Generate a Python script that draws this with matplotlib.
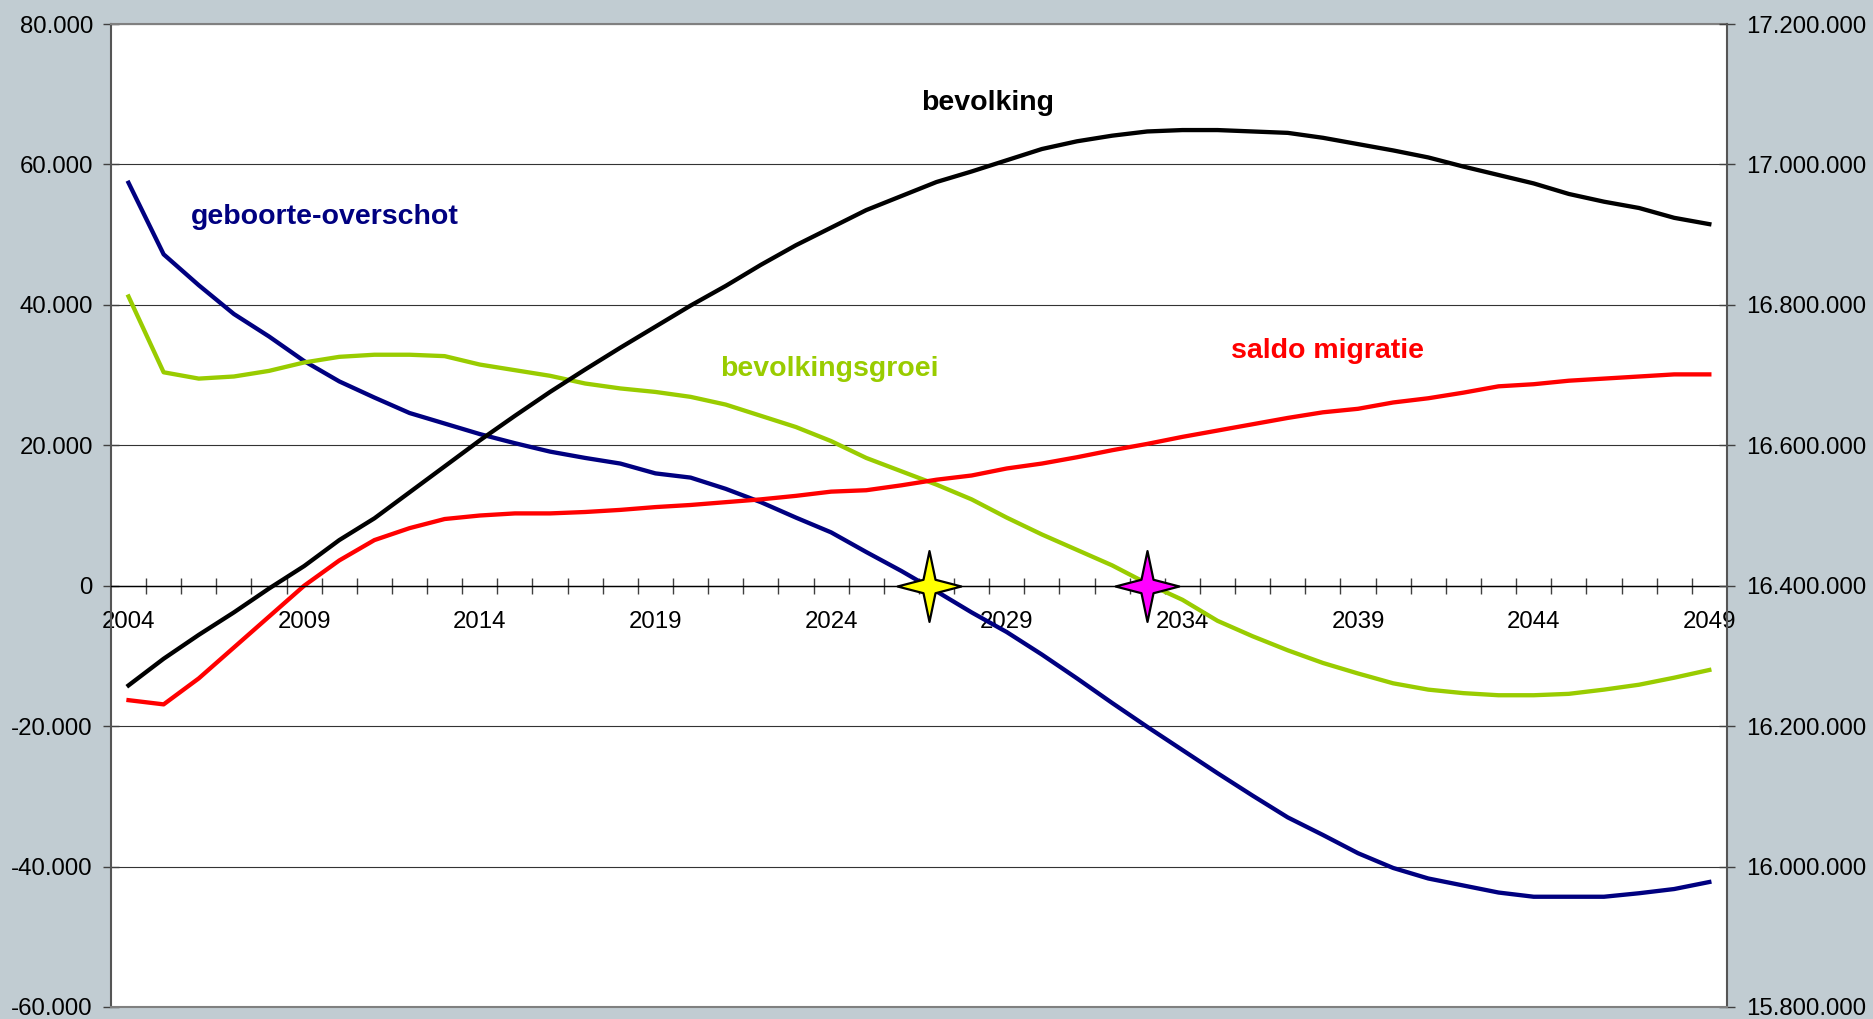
import matplotlib
matplotlib.use("Agg")
import matplotlib.pyplot as plt
from matplotlib.path import Path
from matplotlib.ticker import FixedLocator, FuncFormatter

# jaren 2004 t/m 2049
years = list(range(2004, 2050))

geboorte_overschot = [57400, 47200, 42800, 38700, 35500, 32000, 29100, 26800, 24600, 23100,
                      21600, 20300, 19100, 18200, 17400, 16000, 15400, 13800, 11900, 9700,
                      7600, 4800, 2100, -800, -3800, -6600, -9800, -13200, -16700, -20100,
                      -23400, -26700, -29900, -33000, -35500, -38100, -40200, -41700, -42700, -43700,
                      -44300, -44300, -44300, -43800, -43200, -42200]

bevolkingsgroei = [41200, 30400, 29500, 29800, 30600, 31800, 32600, 32900, 32900, 32700,
                   31500, 30700, 29900, 28800, 28100, 27600, 26900, 25800, 24200, 22600,
                   20600, 18200, 16300, 14400, 12300, 9700, 7300, 5100, 2900, 300,
                   -2000, -5000, -7200, -9200, -11000, -12500, -13900, -14800, -15300, -15600,
                   -15600, -15400, -14800, -14100, -13100, -12000]

saldo_migratie = [-16300, -16900, -13200, -8800, -4400, 0, 3600, 6500, 8200, 9500,
                  10000, 10300, 10300, 10500, 10800, 11200, 11500, 11900, 12300, 12800,
                  13400, 13600, 14300, 15100, 15700, 16700, 17400, 18300, 19300, 20200,
                  21200, 22100, 23000, 23900, 24700, 25200, 26100, 26700, 27500, 28400,
                  28700, 29200, 29500, 29800, 30100, 30100]

bevolking = [16258000, 16296000, 16330000, 16362000, 16396000, 16428000, 16465000, 16496000, 16533000, 16570000,
             16607000, 16642000, 16676000, 16708000, 16739000, 16769000, 16799000, 16827000, 16857000, 16885000,
             16910000, 16935000, 16955000, 16975000, 16990000, 17006000, 17022000, 17033000, 17041000, 17047000,
             17049000, 17049000, 17047000, 17045000, 17038000, 17029000, 17020000, 17010000, 16997000, 16985000,
             16973000, 16958000, 16947000, 16938000, 16924000, 16915000]

# sterren op de nullijn: geboorte-overschot en bevolkingsgroei worden negatief
star_years = [2026.8, 2033.0]
star_colors = ["#FFFF00", "#FF00FF"]

left_ticks = [-60000, -40000, -20000, 0, 20000, 40000, 60000, 80000]
right_ticks = [15800000, 16000000, 16200000, 16400000, 16600000, 16800000, 17000000, 17200000]
label_years = list(range(2004, 2050, 5))

bg = "#C1CCD2"
plt.rcParams["font.family"] = ["Liberation Sans", "DejaVu Sans"]


def dutch(v, pos=None):
    return "{:,.0f}".format(v).replace(",", ".")


# vierpuntige ster
star = Path([(0, 1), (0.17, 0.19), (0.9, 0), (0.17, -0.19), (0, -1),
             (-0.17, -0.19), (-0.9, 0), (-0.17, 0.19), (0, 1)],
            [Path.MOVETO] + [Path.LINETO] * 7 + [Path.CLOSEPOLY])

fig = plt.figure(figsize=(18.74, 10.19), dpi=100, facecolor=bg)
ax = fig.add_axes([0.0592, 0.0118, 0.8623, 0.9646])
ax2 = ax.twinx()

ax.set_xlim(2003.5, 2049.5)
ax.set_ylim(-60000, 80000)
ax2.set_ylim(15800000, 17200000)

ax.plot(years, geboorte_overschot, color="#000080", lw=3.1)
ax.plot(years, bevolkingsgroei, color="#99CC00", lw=3.1)
ax.plot(years, saldo_migratie, color="#FF0000", lw=3.1)
ax2.plot(years, bevolking, color="black", lw=3.1)

for yr, c in zip(star_years, star_colors):
    ax2.plot([yr], [0], transform=ax.transData, marker=star, markersize=51,
             markerfacecolor=c, markeredgecolor="black", markeredgewidth=1.6,
             linestyle="none", zorder=10, clip_on=False)

# gridlijnen
ax.yaxis.set_major_locator(FixedLocator(left_ticks))
ax.yaxis.set_major_formatter(FuncFormatter(dutch))
ax.yaxis.grid(True, color="#333333", lw=0.8)
ax2.yaxis.set_major_locator(FixedLocator(right_ticks))
ax2.yaxis.set_major_formatter(FuncFormatter(dutch))

# x-as op de nullijn
ax.spines["bottom"].set_position(("data", 0))
ax.spines["bottom"].set_color("black")
ax.spines["bottom"].set_linewidth(1.0)
ax.spines["top"].set_color("#808080")
ax.spines["top"].set_linewidth(1.5)
ax.spines["left"].set_color("#555555")
ax.spines["left"].set_linewidth(1.5)
ax.spines["right"].set_visible(False)
ax2.spines["right"].set_color("#555555")
ax2.spines["right"].set_linewidth(1.5)
ax2.spines["left"].set_visible(False)
ax2.spines["top"].set_visible(False)
ax2.spines["bottom"].set_color("#808080")
ax2.spines["bottom"].set_linewidth(1.5)

ax.set_xticks(label_years)
ax.set_xticks([y + 0.5 for y in years[:-1]], minor=True)
ax.tick_params(axis="x", which="major", length=0, pad=18, labelsize=17.3)
ax.tick_params(axis="x", which="minor", direction="inout", length=12,
               width=1.0, color="#404040")
ax.tick_params(axis="y", direction="inout", length=12, width=1.0,
               color="#404040", pad=7, labelsize=17.3)
ax2.tick_params(axis="y", direction="inout", length=12, width=1.0,
                color="#404040", pad=8, labelsize=17.3)

ax.set_facecolor("white")

# serienamen
ax.text(2005.78, 52500, "geboorte-overschot", color="#000080", fontsize=20.5,
        fontweight="bold", ha="left", va="center")
ax.text(2028.46, 68700, "bevolking", color="black", fontsize=20.5,
        fontweight="bold", ha="center", va="center")
ax.text(2023.94, 30900, "bevolkingsgroei", color="#99CC00", fontsize=20.5,
        fontweight="bold", ha="center", va="center")
ax.text(2038.12, 33400, "saldo migratie", color="#FF0000", fontsize=20.5,
        fontweight="bold", ha="center", va="center")

fig.savefig("out.png", dpi=100, facecolor=bg)
